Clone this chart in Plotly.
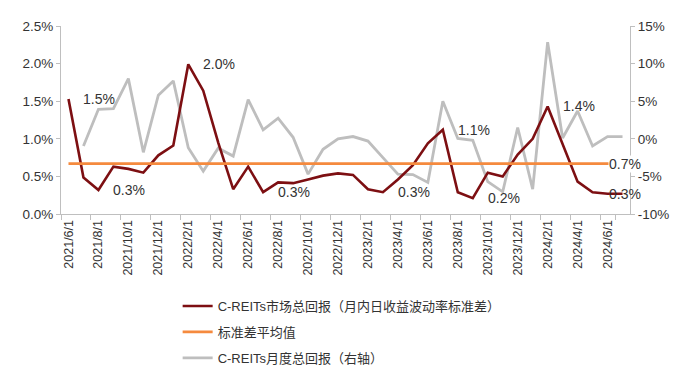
import plotly.graph_objects as go

# ---- data ----
months = []
for y in (2021, 2022, 2023, 2024):
    for m in range(1, 13):
        if (y == 2021 and m < 6) or (y == 2024 and m > 7):
            continue
        months.append(f"{y}/{m}/1")

vol_std = [1.53, 0.485, 0.32, 0.63, 0.60, 0.55, 0.78, 0.91, 1.99, 1.64,
           0.95, 0.33, 0.63, 0.29, 0.42, 0.41, 0.46, 0.51, 0.54, 0.52,
           0.33, 0.29, 0.46, 0.65, 0.94, 1.12, 0.29, 0.21, 0.55, 0.50,
           0.79, 1.00, 1.43, 0.94, 0.43, 0.29, 0.27, 0.27]
std_mean = 0.67
monthly_ret = [None, -0.95, 3.93, 4.0, 8.0, -1.8, 5.8, 7.7, -1.2, -4.3,
               -1.25, -2.3, 5.2, 1.2, 2.75, 0.2, -4.7, -1.4, 0.0, 0.3,
               -0.3, -2.5, -4.7, -4.75, -5.8, 5.0, 0.05, -0.2, -5.7, -7.05,
               1.5, -6.7, 12.85, 0.1, 3.7, -0.95, 0.3, 0.3]
label_idx = [0, 2, 8, 13, 21, 25, 27, 32]

left_ticks = [0, 0.5, 1.0, 1.5, 2.0, 2.5]
right_ticks = [-10, -5, 0, 5, 10, 15]
x_ticks = months[::2]

names = ["C-REITs市场总回报（月内日收益波动率标准差）", "标准差平均值", "C-REITs月度总回报（右轴）"]

RED = "#7D0F12"
ORANGE = "#F58A3E"
GRAY = "#BEBEBE"
AXIS = "#BFBFBF"
TXT = "#333333"
FONT = "Liberation Sans, Arial, Noto Sans CJK SC, sans-serif"

fig = go.Figure()
fig.add_trace(go.Scatter(x=months, y=monthly_ret, name=names[2], yaxis="y",
                         mode="lines", line=dict(color=GRAY, width=2.8),
                         legendrank=3, legendgroup="c"))
fig.add_trace(go.Scatter(x=months, y=vol_std, name=names[0], yaxis="y2",
                         mode="lines", line=dict(color=RED, width=2.6),
                         legendrank=1, legendgroup="a"))
fig.add_trace(go.Scatter(x=months, y=[std_mean] * len(months), name=names[1], yaxis="y2",
                         mode="lines", line=dict(color=ORANGE, width=2.8),
                         legendrank=2, legendgroup="b"))

ann = []
for i in label_idx:
    ann.append(dict(x=months[i], y=vol_std[i], xref="x", yref="y2",
                    text=f"{vol_std[i]:.1f}%", showarrow=False,
                    xanchor="left", yanchor="middle", xshift=13,
                    font=dict(size=14, color=TXT, family=FONT)))
ann.append(dict(x=months[-1], y=vol_std[-1], xref="x", yref="y2",
                text=f"{vol_std[-1]:.1f}%", showarrow=False,
                xanchor="center", yanchor="middle", xshift=2,
                font=dict(size=14, color=TXT, family=FONT)))
ann.append(dict(x=months[-1], y=std_mean, xref="x", yref="y2",
                text=f"{std_mean:.1f}%", showarrow=False, bgcolor="white",
                borderpad=0,
                xanchor="center", yanchor="middle", xshift=2,
                font=dict(size=14, color=TXT, family=FONT)))

fig.update_layout(
    width=684, height=377,
    margin=dict(l=53, r=62, t=18, b=161),
    paper_bgcolor="white", plot_bgcolor="white",
    font=dict(family=FONT, color=TXT, size=13),
    showlegend=True,
    legend=dict(x=0.205, y=-0.41, xanchor="left", yanchor="top",
                orientation="v", tracegroupgap=6,
                font=dict(size=13, color=TXT, family=FONT),
                bgcolor="rgba(0,0,0,0)"),
    xaxis=dict(type="category", range=[-0.5, len(months) - 0.5],
               tickmode="array", tickvals=x_ticks, ticktext=x_ticks,
               tickson="boundaries", ticks="outside", ticklen=5,
               tickcolor=AXIS, tickangle=-90, showgrid=False,
               showline=True, linecolor=AXIS, linewidth=1,
               tickfont=dict(size=12.5, color=TXT), zeroline=False),
    yaxis=dict(side="right", range=[-10, 15], tickmode="array",
               tickvals=right_ticks, ticktext=[f"{v}%" for v in right_ticks],
               showgrid=False, zeroline=False, showline=True,
               linecolor=AXIS, linewidth=1, ticks="outside", ticklen=4,
               tickcolor=AXIS, tickfont=dict(size=13.5, color=TXT)),
    yaxis2=dict(side="left", overlaying="y", range=[0, 2.5], tickmode="array",
                tickvals=left_ticks, ticktext=[f"{v:.1f}%" for v in left_ticks],
                showgrid=False, zeroline=False, showline=True,
                linecolor=AXIS, linewidth=1, ticks="outside", ticklen=4,
                tickcolor=AXIS, tickfont=dict(size=13.5, color=TXT)),
    annotations=ann,
)

fig.write_html("out.html")
